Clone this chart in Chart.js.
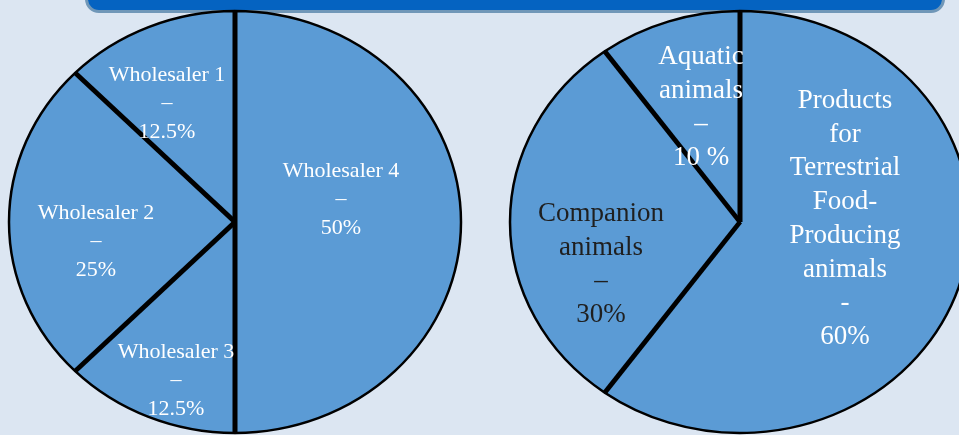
<!DOCTYPE html>
<html><head><meta charset="utf-8">
<script src="https://cdn.jsdelivr.net/npm/chart.js@4/dist/chart.umd.min.js"></script>
<style>
html,body{margin:0;padding:0;width:959px;height:435px;overflow:hidden;background:#dce6f2;}
#banner{position:absolute;left:85px;top:-29px;width:854px;height:36px;background:#0563c1;border:3px solid #7097b8;border-radius:14px;}
.box{position:absolute;width:480px;height:480px;}
#leftBox{left:-5px;top:-18px;}
#rightBox{left:500px;top:-18px;}
</style></head><body>
<div id="banner"></div>
<div class="box" id="leftBox"><canvas id="c1"></canvas></div>
<div class="box" id="rightBox"><canvas id="c2"></canvas></div>
<script>
// ---- data ----
const wholesalerLabels = ["Wholesaler 4", "Wholesaler 3", "Wholesaler 2", "Wholesaler 1"];
const wholesalerShares = [50, 12.5, 25, 12.5];
const wholesalerText = [
  ["Wholesaler 4", "–", "50%"],
  ["Wholesaler 3", "–", "12.5%"],
  ["Wholesaler 2", "–", "25%"],
  ["Wholesaler 1", "–", "12.5%"]
];
const animalLabels = ["Products for Terrestrial Food-Producing animals", "Companion animals", "Aquatic animals"];
const animalShares = [60, 30, 10];
const animalText = [
  ["Products", "for", "Terrestrial", "Food-", "Producing", "animals", "-", "60%"],
  ["Companion", "animals", "–", "30%"],
  ["Aquatic", "animals", "–", "10 %"]
];

// ---- plugin: elliptical pie, thick separators, in-slice labels ----
const ellipsePie = {
  id: 'ellipsePie',
  beforeDatasetsDraw(chart, args, opts) {
    const a = chart.getDatasetMeta(0).data[0];
    const ctx = chart.ctx;
    ctx.save();
    ctx.translate(a.x, a.y);
    ctx.scale(opts.scaleX, opts.scaleY);
    ctx.translate(-a.x, -a.y);
  },
  afterDatasetsDraw(chart, args, opts) {
    const ctx = chart.ctx;
    const meta = chart.getDatasetMeta(0);
    ctx.lineWidth = opts.sepWidth;
    ctx.strokeStyle = '#000';
    ctx.lineCap = 'butt';
    meta.data.forEach(el => {
      const p = el.getProps(['x', 'y', 'startAngle', 'outerRadius'], true);
      ctx.beginPath();
      ctx.moveTo(p.x, p.y);
      ctx.lineTo(p.x + Math.cos(p.startAngle) * p.outerRadius, p.y + Math.sin(p.startAngle) * p.outerRadius);
      ctx.stroke();
    });
    ctx.restore();
    const cx = meta.data[0].x, cy = meta.data[0].y;
    ctx.save();
    ctx.textAlign = 'center';
    ctx.textBaseline = 'middle';
    ctx.font = opts.font;
    opts.text.forEach((lines, i) => {
      const pos = opts.pos[i];
      ctx.fillStyle = opts.colors[i];
      lines.forEach((t, k) => {
        ctx.fillText(t, cx + pos[0], cy + pos[1] + k * opts.lineHeight);
      });
    });
    ctx.restore();
  }
};

function makePie(id, labels, values, radius, pluginOpts) {
  return new Chart(document.getElementById(id), {
    type: 'pie',
    data: {
      labels: labels,
      datasets: [{
        data: values,
        backgroundColor: '#5b9bd5',
        borderColor: '#000',
        borderWidth: 2.5,
        hoverOffset: 0
      }]
    },
    options: {
      responsive: true,
      maintainAspectRatio: false,
      animation: false,
      radius: radius,
      layout: {padding: 0},
      events: [],
      plugins: {
        legend: {display: false},
        tooltip: {enabled: false},
        ellipsePie: pluginOpts
      }
    },
    plugins: [ellipsePie]
  });
}

makePie('c1', wholesalerLabels, wholesalerShares, 226, {
  scaleX: 1, scaleY: 211 / 226, sepWidth: 5,
  font: '22px "Liberation Serif", serif', lineHeight: 28.5,
  colors: ['#ffffff', '#ffffff', '#ffffff', '#ffffff'],
  text: wholesalerText,
  pos: [[106, -51], [-59, 130], [-139, -9], [-68, -147]]
});

makePie('c2', animalLabels, animalShares, 230, {
  scaleX: 1, scaleY: 211 / 230, sepWidth: 5,
  font: '27px "Liberation Serif", serif', lineHeight: 33.7,
  colors: ['#ffffff', '#1f1f1f', '#ffffff'],
  text: animalText,
  pos: [[105, -121], [-139, -8], [-39, -165]]
});
</script>
</body></html>
